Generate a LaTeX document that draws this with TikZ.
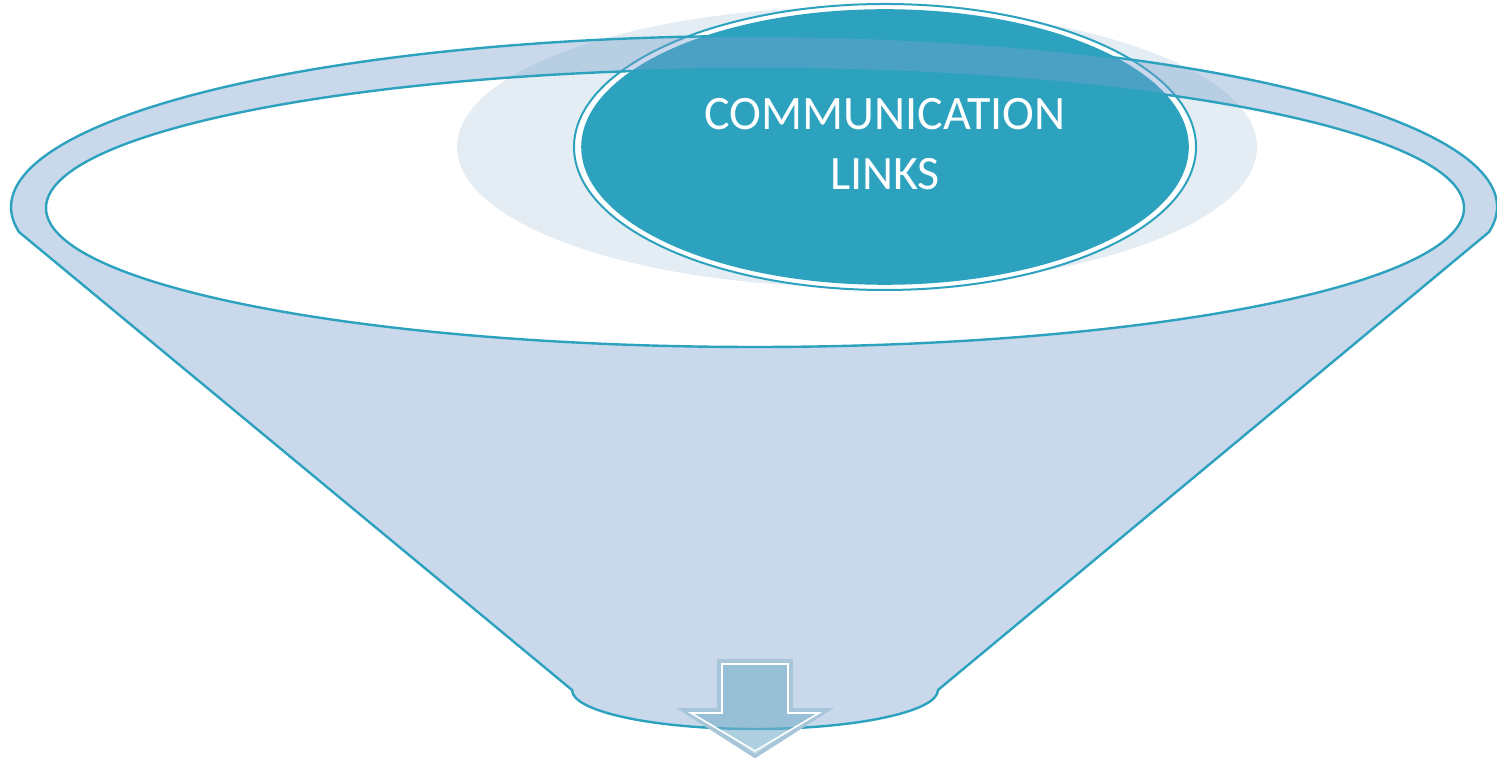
\documentclass[tikz,border=0pt]{standalone}
\usepackage{fontspec}
\setmainfont{Carlito}
\definecolor{teal}{HTML}{2DA2BF}
\definecolor{bandc}{HTML}{78A0CD}
\definecolor{pale}{HTML}{E4EDF3}
\definecolor{arrowc}{HTML}{76AFC9}
\definecolor{arrowline}{HTML}{A8C6DA}
\tikzset{
  rim/.style={draw=teal, line width=1.2pt},
  bodyfill/.style={fill=bandc, fill opacity=0.4},
  title/.style={text=white, font=\fontsize{24pt}{30pt}\selectfont, align=center}
}
\begin{document}
\begin{tikzpicture}[x=0.5pt,y=0.5pt]
\useasboundingbox (0,0) rectangle (1497,759);
% pale background ellipse
\fill[pale] (857,612) ellipse[x radius=400, y radius=140];
% main teal ellipse with white ring
\draw[draw=teal, line width=1pt, fill=white] (885,612) ellipse[x radius=311, y radius=143];
\draw[draw=teal, line width=0.8pt, fill=teal] (885,612) ellipse[x radius=303, y radius=137];
\node[title] (t) at (885,615) {COMMUNICATION\\LINKS};
% funnel body minus inner ellipse
\path[bodyfill, even odd rule]
  (19,527) -- (572,69) arc[start angle=180, end angle=360, x radius=183, y radius=39]
  -- (1489,527) arc[start angle=-8.4, end angle=188.4, x radius=743, y radius=171] -- cycle
  (755,551) ellipse[x radius=709, y radius=139];
\draw[rim, line join=round]
  (19,527) -- (572,69) arc[start angle=180, end angle=360, x radius=183, y radius=39]
  -- (1489,527) arc[start angle=-8.4, end angle=188.4, x radius=743, y radius=171] -- cycle;
\draw[rim] (755,551) ellipse[x radius=709, y radius=139];
% down arrow
\path[fill=arrowc, fill opacity=0.6]
  (721,96) -- (789,96) -- (789,47) -- (823,47) -- (755,6) -- (687,47) -- (721,47) -- cycle;
\draw[arrowline, line width=2pt, line join=miter]
  (719,98) -- (791,98) -- (791,49) -- (827,49) -- (755,3) -- (683,49) -- (719,49) -- cycle;
\draw[white, line width=0.8pt, line join=miter]
  (722,95) -- (788,95) -- (788,46) -- (819,46) -- (755,8) -- (691,46) -- (722,46) -- cycle;
\end{tikzpicture}
\end{document}
